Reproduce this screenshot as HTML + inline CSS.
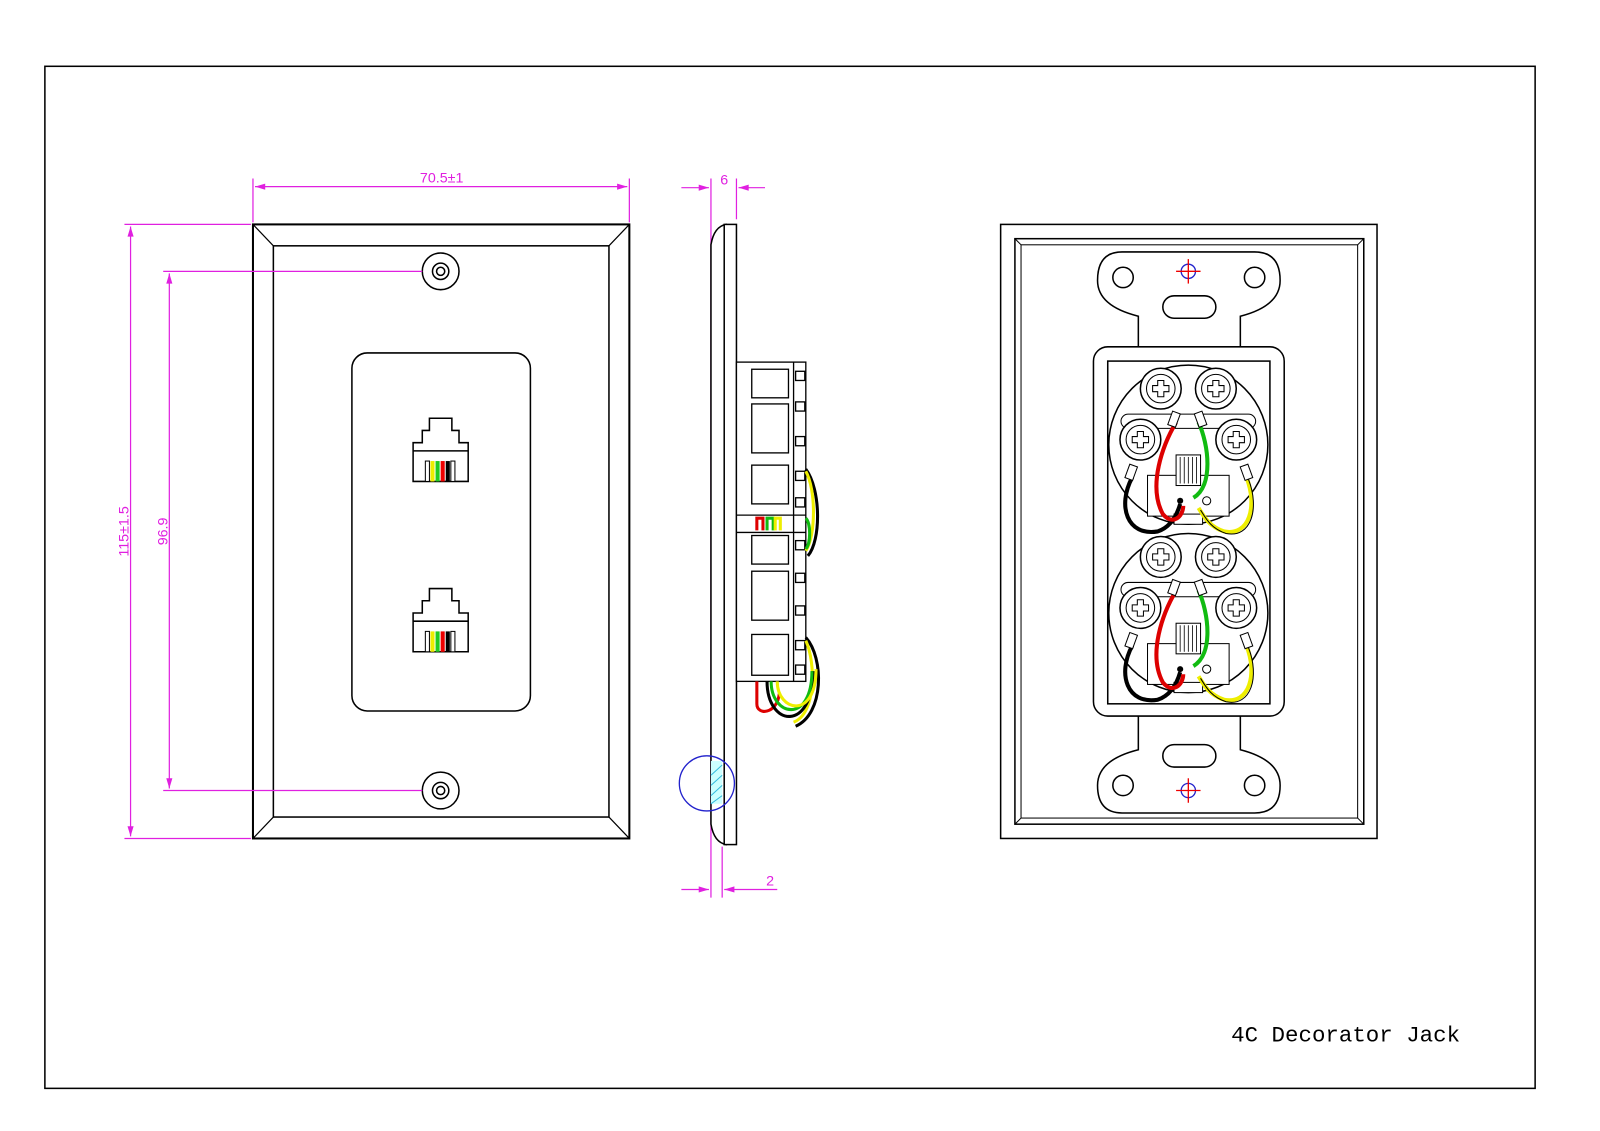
<!DOCTYPE html>
<html><head><meta charset="utf-8"><style>html,body{margin:0;padding:0;background:#fff}svg{display:block}</style></head><body>
<svg width="1600" height="1131" viewBox="0 0 1568.6 1108.8" preserveAspectRatio="none" xmlns="http://www.w3.org/2000/svg" font-family="Liberation Sans, sans-serif">
<defs>
<g id="jack">
<path d="M-11,0 h22 v12 h7 v12 h9 v38 h-54 v-38 h9 v-12 h7 z" fill="#fff" stroke="#000" stroke-width="1.5"/>
<line x1="-27" y1="32" x2="27" y2="32" stroke="#000" stroke-width="1.5"/>
<rect x="-15" y="42" width="4" height="20" fill="#fff" stroke="#000"/>
<rect x="-10" y="42" width="4" height="20" fill="#ee0"/>
<rect x="-5" y="42" width="4" height="20" fill="#2c2"/>
<rect x="0" y="42" width="4" height="20" fill="#e00"/>
<rect x="5" y="42" width="4" height="20" fill="#000"/>
<rect x="10" y="42" width="4" height="20" fill="#fff" stroke="#000"/>
</g>
<g id="screw">
<circle r="20" fill="#fff" stroke="#000" stroke-width="1.5"/>
<circle r="14" fill="none" stroke="#000"/>
<path d="M-3,-8 h6 v5 h5 v6 h-5 v5 h-6 v-5 h-5 v-6 h5 z" fill="#fff" stroke="#000"/>
</g>
<g id="block">
<circle r="78" fill="#fff" stroke="#000" stroke-width="1.5"/>
<rect x="-66" y="-30" width="132" height="14" rx="7" fill="#fff" stroke="#000"/>
<rect x="-40" y="30" width="80" height="40" fill="#fff" stroke="#000"/>
<rect x="-12" y="10" width="24" height="30" fill="#fff" stroke="#000"/>
<g stroke="#000" stroke-width="0.8"><line x1="-8" y1="12" x2="-8" y2="38"/><line x1="-4" y1="12" x2="-4" y2="38"/><line x1="0" y1="12" x2="0" y2="38"/><line x1="4" y1="12" x2="4" y2="38"/><line x1="8" y1="12" x2="8" y2="38"/></g>
<rect x="-14" y="68" width="28" height="10" fill="#fff" stroke="#000"/>
<use href="#screw" x="-27" y="-55"/><use href="#screw" x="27" y="-55"/>
<use href="#screw" x="-47" y="-5"/><use href="#screw" x="47" y="-5"/>
<g stroke="#000" stroke-width="4" fill="none">
<path d="M-55,32 C-70,60 -60,90 -30,85 C-15,80 -10,65 -8,58"/></g>
<path d="M-12,-22 C-25,0 -40,40 -25,68 C-15,80 -5,70 -5,60" stroke="#d00" stroke-width="4" fill="none"/>
<path d="M10,-22 C20,0 25,40 5,52" stroke="#1b1" stroke-width="4" fill="none"/>
<path d="M57,32 C68,60 60,90 35,85 C20,80 15,70 10,62" stroke="#ee0" stroke-width="4" fill="none"/>
<path d="M57,32 C68,60 60,90 35,85 C20,80 15,70 10,62" stroke="#000" stroke-width="1" fill="none" transform="translate(2,2)"/>
<g fill="#fff" stroke="#000"><rect x="-60" y="20" width="8" height="14" transform="rotate(20 -56 27)"/><rect x="53" y="20" width="8" height="14" transform="rotate(-20 57 27)"/><rect x="-18" y="-32" width="8" height="14" transform="rotate(20 -14 -25)"/><rect x="8" y="-32" width="8" height="14" transform="rotate(-20 12 -25)"/></g>
<circle cx="-8" cy="55" r="3" fill="#000"/><circle cx="18" cy="55" r="4" fill="#fff" stroke="#000"/>
</g>
</defs>
<rect x="44" y="65" width="1461" height="1002" fill="none" stroke="#000" stroke-width="1.5"/>

<rect x="248" y="220" width="369" height="602" fill="#fff" stroke="#000" stroke-width="2"/>
<rect x="268" y="241" width="329" height="560" fill="none" stroke="#000" stroke-width="1.5"/>
<g stroke="#000" stroke-width="1.2"><line x1="248" y1="220" x2="268" y2="241"/><line x1="617" y1="220" x2="597" y2="241"/><line x1="248" y1="822" x2="268" y2="801"/><line x1="617" y1="822" x2="597" y2="801"/></g>
<g fill="#fff" stroke="#000" stroke-width="1.5"><circle cx="432" cy="266" r="18"/><circle cx="432" cy="266" r="8"/><circle cx="432" cy="266" r="4"/><circle cx="432" cy="775" r="18"/><circle cx="432" cy="775" r="8"/><circle cx="432" cy="775" r="4"/></g>
<rect x="345" y="346" width="175" height="351" rx="15" fill="none" stroke="#000" stroke-width="1.5"/>
<use href="#jack" x="432" y="410"/>
<use href="#jack" x="432" y="577"/>

<g stroke="#e020e0" stroke-width="1.2" fill="#e020e0">
<line x1="248" y1="175" x2="248" y2="218"/><line x1="617" y1="175" x2="617" y2="218"/>
<line x1="250" y1="183" x2="615" y2="183"/>
<path d="M250,183 l10,-3 v6z M615,183 l-10,-3 v6z" stroke="none"/>
<line x1="122" y1="220" x2="246" y2="220"/><line x1="122" y1="822" x2="246" y2="822"/>
<line x1="128" y1="222" x2="128" y2="820"/>
<path d="M128,222 l-3,10 h6z M128,820 l-3,-10 h6z" stroke="none"/>
<line x1="160" y1="266" x2="414" y2="266"/><line x1="160" y1="775" x2="414" y2="775"/>
<line x1="166" y1="268" x2="166" y2="773"/>
<path d="M166,268 l-3,10 h6z M166,773 l-3,-10 h6z" stroke="none"/>
<line x1="697" y1="175" x2="697" y2="880"/><line x1="722" y1="175" x2="722" y2="215"/><line x1="708" y1="830" x2="708" y2="880"/>
<line x1="668" y1="184" x2="695" y2="184"/><line x1="724" y1="184" x2="750" y2="184"/>
<path d="M695,184 l-10,-3 v6z M724,184 l10,-3 v6z" stroke="none"/>
<line x1="668" y1="872" x2="695" y2="872"/><line x1="710" y1="872" x2="762" y2="872"/>
<path d="M695,872 l-10,-3 v6z M710,872 l10,-3 v6z" stroke="none"/>
</g>
<g fill="#e020e0" font-size="14">
<text x="433" y="179" text-anchor="middle">70.5±1</text>
<text x="710" y="181" text-anchor="middle">6</text>
<text x="755" y="868" text-anchor="middle">2</text>
<text transform="translate(126,521) rotate(-90)" text-anchor="middle">115±1.5</text>
<text transform="translate(164,521) rotate(-90)" text-anchor="middle">96.9</text>
</g>

<path d="M697,240 Q700,222 712,220 L712,828 Q700,826 697,808 Z" fill="#fff" stroke="#000" stroke-width="1.5"/>
<rect x="710" y="220" width="12" height="608" fill="#fff" stroke="#000" stroke-width="1.5"/>
<g fill="#fff" stroke="#000" stroke-width="1.3">
<rect x="722" y="355" width="68" height="313"/>
<line x1="778" y1="355" x2="778" y2="668"/>
<rect x="737" y="362" width="36" height="28"/><rect x="737" y="396" width="36" height="48"/><rect x="737" y="456" width="36" height="38"/>
<rect x="737" y="525" width="36" height="28"/><rect x="737" y="560" width="36" height="48"/><rect x="737" y="622" width="36" height="40"/>
<line x1="722" y1="505" x2="790" y2="505"/><line x1="722" y1="522" x2="790" y2="522"/>
<rect x="780" y="364" width="9" height="9"/><rect x="780" y="394" width="9" height="9"/><rect x="780" y="428" width="9" height="9"/><rect x="780" y="462" width="9" height="9"/><rect x="780" y="488" width="9" height="9"/>
<rect x="780" y="530" width="9" height="9"/><rect x="780" y="562" width="9" height="9"/><rect x="780" y="594" width="9" height="9"/><rect x="780" y="628" width="9" height="9"/><rect x="780" y="652" width="9" height="9"/>
</g>
<g fill="none" stroke-width="3">
<path d="M790,460 C805,480 805,530 792,545" stroke="#000"/><path d="M790,462 C800,480 800,525 790,540" stroke="#ee0"/>
<path d="M790,625 C808,645 808,700 780,712" stroke="#000"/><path d="M790,628 C800,650 800,700 778,708" stroke="#ee0"/>
<path d="M742,520 v-12 h6 v12" stroke="#d00"/><path d="M752,520 v-12 h6 v12" stroke="#1b1"/><path d="M760,520 v-12 h5 v12" stroke="#ee0"/>
<path d="M742,668 v22 c0,12 20,10 22,-10" stroke="#d00"/>
<path d="M752,668 c0,45 45,50 45,-10" stroke="#000"/>
<path d="M756,668 c0,35 40,42 40,-10" stroke="#1b1"/>
<path d="M762,668 c0,30 38,38 38,-12" stroke="#ee0"/>
<path d="M790,508 c5,5 5,25 0,30" stroke="#1b1"/>
</g>
<ellipse cx="693" cy="768" rx="27" ry="27" fill="none" stroke="#22c" stroke-width="1.3"/>
<rect x="697" y="746" width="11" height="42" fill="#cff"/>
<g stroke="#3bd" stroke-width="1"><line x1="697" y1="760" x2="708" y2="750"/><line x1="697" y1="770" x2="708" y2="760"/><line x1="697" y1="780" x2="708" y2="770"/><line x1="697" y1="788" x2="708" y2="780"/></g>

<rect x="981" y="220" width="369" height="602" fill="#fff" stroke="#000" stroke-width="1.5"/>
<rect x="995" y="234" width="342" height="574" fill="none" stroke="#000" stroke-width="1.5"/>
<rect x="1001" y="240" width="330" height="562" fill="none" stroke="#000" stroke-width="1"/>
<g stroke="#000" stroke-width="1"><line x1="995" y1="234" x2="1001" y2="240"/><line x1="1337" y1="234" x2="1331" y2="240"/><line x1="995" y1="808" x2="1001" y2="802"/><line x1="1337" y1="808" x2="1331" y2="802"/></g>
<g fill="#fff" stroke="#000" stroke-width="1.5">
<path d="M1116,340 V310 Q1076,300 1076,275 Q1076,247 1100,247 H1230 Q1255,247 1255,275 Q1255,300 1216,310 V340"/>
<path d="M1116,702 V735 Q1076,745 1076,770 Q1076,797 1100,797 H1230 Q1255,797 1255,770 Q1255,745 1216,735 V702"/>
<circle cx="1101" cy="272" r="10"/><circle cx="1230" cy="272" r="10"/>
<circle cx="1101" cy="770" r="10"/><circle cx="1230" cy="770" r="10"/>
<rect x="1140" y="290" width="52" height="22" rx="11"/>
<rect x="1140" y="730" width="52" height="22" rx="11"/>
<rect x="1072" y="340" width="187" height="362" rx="14"/>
<rect x="1086" y="354" width="159" height="336"/>
</g>
<g stroke-width="1.3" fill="none"><circle cx="1165" cy="266" r="7" stroke="#22c"/><line x1="1153" y1="266" x2="1177" y2="266" stroke="#e00"/><line x1="1165" y1="254" x2="1165" y2="278" stroke="#e00"/>
<circle cx="1165" cy="775" r="7" stroke="#22c"/><line x1="1153" y1="775" x2="1177" y2="775" stroke="#e00"/><line x1="1165" y1="763" x2="1165" y2="787" stroke="#e00"/></g>
<use href="#block" x="1165" y="436"/>
<use href="#block" x="1165" y="601"/>

<text x="1207" y="1021" font-family="Liberation Mono, monospace" font-size="22">4C Decorator Jack</text>
</svg>
</body></html>
